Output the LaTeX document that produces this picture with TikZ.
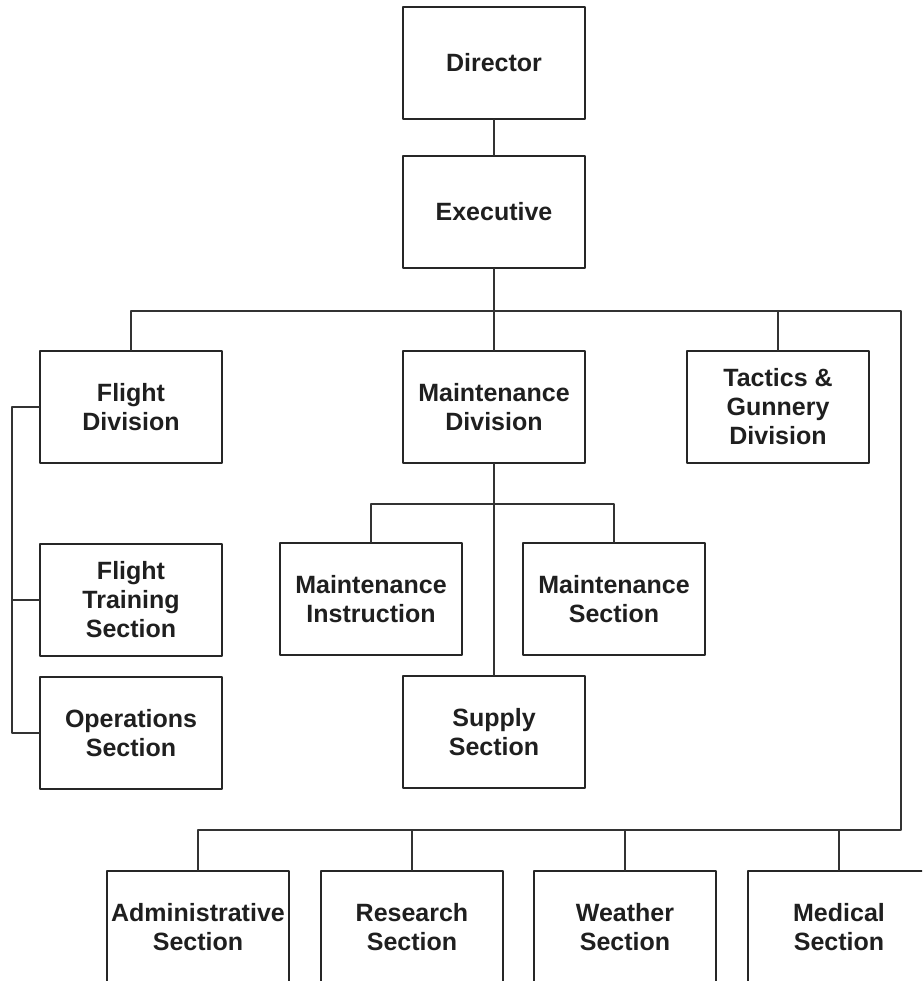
\documentclass[tikz,border=0pt]{standalone}
\usepackage{fontspec}
\setmainfont{Liberation Sans}
\begin{document}
\begin{tikzpicture}[x=1pt, y=-1pt, line width=1.4pt, line join=round, line cap=round,
	box/.style={draw=black!85, minimum width=182pt, minimum height=112pt, inner sep=0pt, align=center, text=black!88, font=\fontsize{25}{29}\selectfont\bfseries},
	wire/.style={draw=black!80, line width=1.3pt}]
			\clip (0,0) rectangle (922,981);
			\def \busy{311}
			\def \bbusy{830}
			\def \rx{901}
			\def \midx{494}
			% top of the chart
			\node[box] (dir) at (\midx,63) {Director};
			\node[box] (exec) at (\midx,212) {Executive};
			% divisions
			\node[box] (fdiv) at (131,407) {Flight\\Division};
			\node[box] (mdiv) at (\midx,407) {Maintenance\\Division};
			\node[box] (tact) at (778,407) {Tactics \&\\Gunnery\\Division};
			% sections
			\node[box] (ftrain) at (131,600) {Flight\\Training\\Section};
			\node[box] (ops) at (131,733) {Operations\\Section};
			\node[box] (minst) at (371,599) {Maintenance\\Instruction};
			\node[box] (msec) at (614,599) {Maintenance\\Section};
			\node[box] (supply) at (\midx,732) {Supply\\Section};
			\node[box] (admin) at (198,927) {Administrative\\Section};
			\node[box] (research) at (412,927) {Research\\Section};
			\node[box] (weather) at (625,927) {Weather\\Section};
			\node[box] (medical) at (839,927) {Medical\\Section};
			% bus points
			\coordinate (topR) at (\rx,\busy);
			\coordinate (botR) at (\rx,\bbusy);
			\coordinate (mbus) at (\midx,504);
			\coordinate (lbus) at (12,407);
			% connectors
			\draw[wire] (dir) -- (exec);
			\draw[wire] (exec) -- (mdiv);
			\draw[wire] (mdiv) -- (supply);
			\draw[wire] (fdiv.north) |- (topR) -- (botR) -| (admin.north);
			\draw[wire] (tact.north) -- (tact.north |- topR);
			\draw[wire] (research.north) -- (research.north |- botR);
			\draw[wire] (weather.north) -- (weather.north |- botR);
			\draw[wire] (medical.north) -- (medical.north |- botR);
			\draw[wire] (minst.north) |- (mbus) -| (msec.north);
			\draw[wire] (fdiv.west) -- (lbus) |- (ops.west);
			\draw[wire] (ftrain.west) -- (ftrain.west -| lbus);
		\end{tikzpicture}
\end{document}
